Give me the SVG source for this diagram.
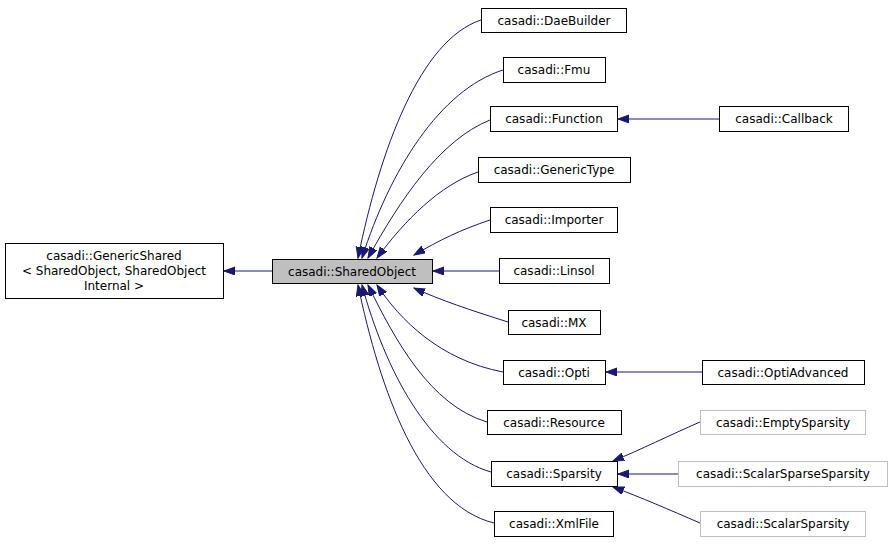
<svg xmlns="http://www.w3.org/2000/svg" width="893" height="544" viewBox="0 0 893 544">
<style>
.n{fill:#fff;stroke:#000;stroke-width:1}
.g{fill:#fff;stroke:#bfbfbf;stroke-width:1}
.b{fill:#bfbfbf;stroke:#000;stroke-width:1}
text{font-family:"DejaVu Sans",sans-serif;font-size:12px;text-anchor:middle;fill:#000}
.e{fill:none;stroke:#191970;stroke-width:1}
</style>
<defs>
<marker id="a" markerUnits="userSpaceOnUse" markerWidth="12" markerHeight="10" refX="11" refY="4" orient="auto">
<path d="M0,0 L11,4 L0,8 z" fill="#191970" stroke="#191970"/>
</marker>
</defs>
<g id="connectors">
<path class="e" marker-end="url(#a)" d="M272,271 L224,271"/>
<path class="e" marker-end="url(#a)" d="M481,20 C420,40 380,150 358,258"/>
<path class="e" marker-end="url(#a)" d="M503,70 C440,90 390,170 362,258"/>
<path class="e" marker-end="url(#a)" d="M490,120 C440,140 400,200 368,258"/>
<path class="e" marker-end="url(#a)" d="M478,172 C440,185 405,220 377,258"/>
<path class="e" marker-end="url(#a)" d="M490,220 C460,230 440,240 414,255"/>
<path class="e" marker-end="url(#a)" d="M499,271 L433,271"/>
<path class="e" marker-end="url(#a)" d="M508,322 C470,310 440,300 414,288"/>
<path class="e" marker-end="url(#a)" d="M503,372 C440,360 400,320 377,285"/>
<path class="e" marker-end="url(#a)" d="M487,422 C430,405 395,340 368,285"/>
<path class="e" marker-end="url(#a)" d="M491,472 C430,455 385,370 362,285"/>
<path class="e" marker-end="url(#a)" d="M494,523 C420,505 380,390 358,285"/>
<path class="e" marker-end="url(#a)" d="M719,119 L618,119"/>
<path class="e" marker-end="url(#a)" d="M702,372 L606,372"/>
<path class="e" marker-end="url(#a)" d="M700,422 C670,435 640,450 613,461"/>
<path class="e" marker-end="url(#a)" d="M678,474 L618,474"/>
<path class="e" marker-end="url(#a)" d="M700,523 C670,510 640,497 613,487"/>
</g>
<g id="GenericShared"><rect class="n" x="5.5" y="243.5" width="218" height="55"/><text x="114" y="260">casadi::GenericShared</text><text x="114" y="275">&lt; SharedObject, SharedObject</text><text x="114" y="290">Internal &gt;</text></g>
<g id="SharedObject"><rect class="b" x="272.5" y="259.5" width="160" height="24"/><text x="352" y="276">casadi::SharedObject</text></g>
<g id="DaeBuilder"><rect class="n" x="481.5" y="8.5" width="145" height="24"/><text x="554" y="25">casadi::DaeBuilder</text></g>
<g id="Fmu"><rect class="n" x="503.5" y="57.5" width="102" height="25"/><text x="554" y="74">casadi::Fmu</text></g>
<g id="Function"><rect class="n" x="490.5" y="106.5" width="127" height="25"/><text x="554" y="123">casadi::Function</text></g>
<g id="GenericType"><rect class="n" x="478.5" y="157.5" width="152" height="25"/><text x="554" y="174">casadi::GenericType</text></g>
<g id="Importer"><rect class="n" x="490.5" y="207.5" width="127" height="25"/><text x="554" y="224">casadi::Importer</text></g>
<g id="Linsol"><rect class="n" x="499.5" y="258.5" width="110" height="25"/><text x="554" y="275">casadi::Linsol</text></g>
<g id="MX"><rect class="n" x="508.5" y="310.5" width="92" height="24"/><text x="554" y="327">casadi::MX</text></g>
<g id="Opti"><rect class="n" x="503.5" y="360.5" width="102" height="24"/><text x="554" y="377">casadi::Opti</text></g>
<g id="Resource"><rect class="n" x="487.5" y="410.5" width="134" height="24"/><text x="554" y="427">casadi::Resource</text></g>
<g id="Sparsity"><rect class="n" x="491.5" y="461.5" width="126" height="25"/><text x="554" y="478">casadi::Sparsity</text></g>
<g id="XmlFile"><rect class="n" x="494.5" y="511.5" width="119" height="25"/><text x="554" y="528">casadi::XmlFile</text></g>
<g id="Callback"><rect class="n" x="719.5" y="106.5" width="129" height="25"/><text x="784" y="123">casadi::Callback</text></g>
<g id="OptiAdvanced"><rect class="n" x="702.5" y="360.5" width="162" height="24"/><text x="783" y="377">casadi::OptiAdvanced</text></g>
<g id="EmptySparsity"><rect class="g" x="700.5" y="410.5" width="165" height="24"/><text x="783" y="427">casadi::EmptySparsity</text></g>
<g id="ScalarSparseSparsity"><rect class="g" x="678.5" y="461.5" width="209" height="25"/><text x="783" y="478">casadi::ScalarSparseSparsity</text></g>
<g id="ScalarSparsity"><rect class="g" x="700.5" y="511.5" width="165" height="25"/><text x="783" y="528">casadi::ScalarSparsity</text></g>
</svg>
